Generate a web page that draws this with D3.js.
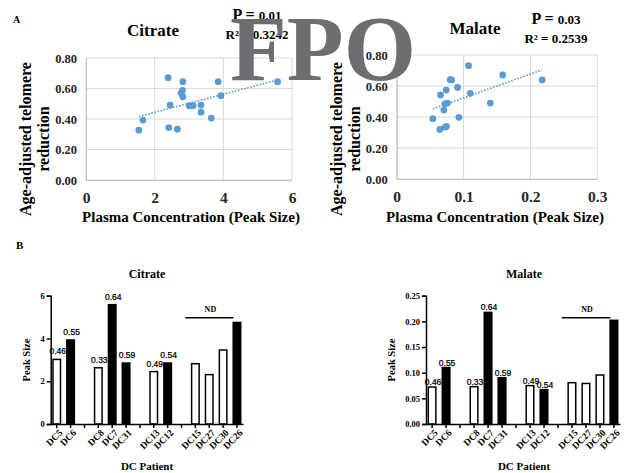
<!DOCTYPE html>
<html>
<head>
<meta charset="utf-8">
<script src="https://cdn.jsdelivr.net/npm/d3@7"></script>
<style>
  body { margin: 0; background: #fff; }
</style>
</head>
<body>
<svg id="fig" width="627" height="473" font-family="Liberation Serif, Times New Roman, serif" font-weight="bold"></svg>
<script>
// ---- data: panel A (scatter) ----
var citrateX = [1.54, 1.66, 2.39, 2.41, 2.45, 2.66, 2.82, 2.77, 2.81, 2.82, 3.01, 3.12, 3.35, 3.35, 3.65, 3.85, 3.93, 5.58];
var citrateY = [0.327, 0.393, 0.671, 0.344, 0.491, 0.333, 0.645, 0.570, 0.588, 0.546, 0.487, 0.487, 0.491, 0.445, 0.406, 0.645, 0.553, 0.645];
var malateX = [0.054, 0.0645, 0.0655, 0.0725, 0.0745, 0.074, 0.0705, 0.072, 0.076, 0.080, 0.082, 0.091, 0.093, 0.1075, 0.110, 0.140, 0.1585, 0.2175];
var malateY = [0.389, 0.320, 0.542, 0.335, 0.340, 0.574, 0.445, 0.484, 0.490, 0.641, 0.639, 0.591, 0.398, 0.731, 0.553, 0.490, 0.671, 0.639];
var scatterYTicks = [0, 0.2, 0.4, 0.6, 0.8];
var citrateXTicks = [0, 2, 4, 6];
var malateXTicks = [0, 0.1, 0.2, 0.3];

// ---- data: panel B (bars) ----
var slots = ["DC5", "DC6", "_g1", "DC8", "DC7", "DC31", "_g2", "DC13", "DC12", "_g3", "DC15", "DC27", "DC30", "DC26"];
var patients = ["DC5", "DC6", "DC8", "DC7", "DC31", "DC13", "DC12", "DC15", "DC27", "DC30", "DC26"];
var filledPatients = ["DC6", "DC7", "DC31", "DC12", "DC26"];
var telomere = [0.46, 0.55, 0.33, 0.64, 0.59, 0.49, 0.54, null, null, null, null];
var citratePeak = [3.02, 3.93, 2.63, 5.58, 2.85, 2.45, 2.85, 2.82, 2.31, 3.46, 4.75];
var malatePeak = [0.072, 0.110, 0.0727, 0.2175, 0.090, 0.0747, 0.0669, 0.0805, 0.079, 0.0955, 0.202];
var ndPatients = ["DC15", "DC27", "DC30", "DC26"];
var citrateBarTicks = [0, 2, 4, 6];
var malateBarTicks = [0, 0.05, 0.10, 0.15, 0.20, 0.25];

var svg = d3.select("#fig");
svg.append("rect").attr("width", 627).attr("height", 473).attr("fill", "#fff");

// least squares fit, like the Excel linear trendline
function fit(xs, ys) {
    var mx = d3.mean(xs), my = d3.mean(ys);
    var sxy = d3.sum(xs, function(v, i){ return (v - mx) * (ys[i] - my); });
    var sxx = d3.sum(xs, function(v){ return (v - mx) * (v - mx); });
    var b = sxy / sxx;
    return {b: b, a: my - b * mx};
}

function serif(sel, size) {
    return sel.attr("font-size", size).attr("fill", "#000")
        .attr("font-family", "Liberation Serif, Times New Roman, serif").attr("font-weight", "bold");
}

function scatter(o) {
    var x = d3.scaleLinear().domain(o.xDomain).range(o.xRange);
    var y = d3.scaleLinear().domain([0, 0.8]).range(o.yRange);
    var g = svg.append("g");

    // gridlines
    g.selectAll(".hg").data(scatterYTicks).enter().append("line")
        .attr("x1", o.xRange[0]).attr("x2", o.xRange[1])
        .attr("y1", function(d){ return y(d); }).attr("y2", function(d){ return y(d); })
        .attr("stroke", "#d9d9d9").attr("stroke-width", 1);
    g.selectAll(".vg").data(o.xTicks).enter().append("line")
        .attr("x1", function(d){ return x(d); }).attr("x2", function(d){ return x(d); })
        .attr("y1", o.yRange[0]).attr("y2", o.yRange[1])
        .attr("stroke", "#d9d9d9").attr("stroke-width", 1);

    var ya = g.append("g").attr("transform", "translate(" + o.xRange[0] + ",0)")
        .call(d3.axisLeft(y).tickValues(scatterYTicks).tickFormat(d3.format(".2f")).tickSize(0).tickPadding(9));
    ya.select(".domain").attr("stroke", "#bfbfbf");
    serif(ya.selectAll("text"), 12.5).attr("fill", "#262626");

    var xa = g.append("g").attr("transform", "translate(0," + o.yRange[0] + ")")
        .call(d3.axisBottom(x).tickValues(o.xTicks).tickFormat(o.xFmt).tickSize(0).tickPadding(12));
    xa.select(".domain").attr("stroke", "#bfbfbf");
    serif(xa.selectAll("text"), 15.5).attr("fill", "#262626");

    // trendline
    var f = fit(o.xs, o.ys);
    var x0 = d3.min(o.xs), x1 = d3.max(o.xs);
    g.append("line")
        .attr("x1", x(x0)).attr("y1", y(f.a + f.b * x0))
        .attr("x2", x(x1)).attr("y2", y(f.a + f.b * x1))
        .attr("stroke", "#5b9bd5").attr("stroke-width", 1.6).attr("stroke-dasharray", "1.6,1.6");

    // points
    g.selectAll("circle").data(o.xs).enter().append("circle")
        .attr("cx", function(d){ return x(d); })
        .attr("cy", function(d, i){ return y(o.ys[i]); })
        .attr("r", 3.4).attr("fill", "#5b9bd5");

    // titles
    g.append("text").attr("x", o.titleX).attr("y", o.titleY).attr("text-anchor", "middle")
        .attr("font-size", 17).text(o.title);
    var pt = g.append("text").attr("x", o.statX).attr("y", o.statY).attr("text-anchor", "middle");
    pt.append("tspan").attr("font-size", 16).text("P = ");
    pt.append("tspan").attr("font-size", 13).text(o.p);
    g.append("text").attr("x", o.statX).attr("y", o.statY + 19).attr("text-anchor", "middle")
        .attr("font-size", 13).text("R² = " + o.r2);

    g.append("text").attr("x", o.xTitleX).attr("y", 222).attr("text-anchor", "middle")
        .attr("font-size", 15).text("Plasma Concentration  (Peak Size)");
    var cy = 139;
    g.append("text").attr("transform", "translate(" + o.yTitleX + "," + cy + ") rotate(-90)")
        .attr("text-anchor", "middle").attr("dy", "0.35em").attr("font-size", 16)
        .text("Age-adjusted  telomere");
    g.append("text").attr("transform", "translate(" + (o.yTitleX + 18) + "," + cy + ") rotate(-90)")
        .attr("text-anchor", "middle").attr("dy", "0.35em").attr("font-size", 16)
        .text("reduction");
}

scatter({xs: citrateX, ys: citrateY, xDomain: [0, 6], xRange: [86, 292], yRange: [180, 58],
    xTicks: citrateXTicks, xFmt: d3.format("d"), title: "Citrate", titleX: 153, titleY: 36,
    statX: 257, statY: 20, p: "0.01", r2: "0.3242", xTitleX: 191, yTitleX: 25});
scatter({xs: malateX, ys: malateY, xDomain: [0, 0.3], xRange: [396.7, 597.3], yRange: [179, 55],
    xTicks: malateXTicks, xFmt: function(d){ return d === 0 ? "0" : d3.format(".1f")(d); },
    title: "Malate", titleX: 475, titleY: 34, statX: 556, statY: 24, p: "0.03", r2: "0.2539",
    xTitleX: 495, yTitleX: 336});

function bars(o) {
    var x = d3.scaleBand().domain(slots).range(o.xRange).paddingInner(0.35).paddingOuter(0.11);
    var y = d3.scaleLinear().domain(o.yDomain).range([424, 295.7]);
    var g = svg.append("g");

    g.selectAll("rect").data(patients).enter().append("rect")
        .attr("x", function(d){ return x(d) + 0.75; })
        .attr("width", x.bandwidth() - 1.5)
        .attr("y", function(d, i){ return y(o.values[i]); })
        .attr("height", function(d, i){ return y(0) - y(o.values[i]); })
        .attr("fill", function(d){ return filledPatients.indexOf(d) >= 0 ? "#000" : "#fff"; })
        .attr("stroke", "#000").attr("stroke-width", 1.5);

    // telomere values over the bars
    g.selectAll(".lab").data(patients).enter().filter(function(d, i){ return telomere[i] != null; })
        .append("text")
        .attr("x", function(d){ return x(d) + x.bandwidth() / 2 + 1; })
        .attr("y", function(d){ var i = patients.indexOf(d); return y(o.values[i]) - o.labelGap; })
        .attr("text-anchor", "middle").attr("font-size", 8.5).attr("fill", "#000")
        .attr("font-family", "Liberation Sans, Arial, sans-serif").attr("font-weight", "normal")
        .attr("stroke", "#000").attr("stroke-width", 0.25)
        .text(function(d){ return d3.format(".2f")(telomere[patients.indexOf(d)]); });

    var ya = g.append("g").attr("transform", "translate(" + o.xRange[0] + ",0)")
        .call(d3.axisLeft(y).tickValues(o.ticks).tickFormat(o.fmt).tickSize(4).tickPadding(2));
    ya.selectAll("path, line").attr("stroke", "#000").attr("stroke-width", 1.5);
    serif(ya.selectAll("text"), 8.5);

    var xa = g.append("g").attr("transform", "translate(0,424)")
        .call(d3.axisBottom(x).tickSize(4).tickSizeOuter(0)
            .tickFormat(function(d){ return d.charAt(0) === "_" ? "" : d; }));
    xa.selectAll("path, line").attr("stroke", "#000").attr("stroke-width", 1.5);
    serif(xa.selectAll("text"), 9.5)
        .attr("text-anchor", "end").attr("dy", "0.35em")
        .attr("transform", "translate(4,7) rotate(-45)").attr("y", 0).attr("x", 0);

    // ND bracket
    var nd0 = x(ndPatients[0]) - 0.4 * x.step();
    var nd1 = x(ndPatients[ndPatients.length - 1]) + 1;
    g.append("line").attr("x1", nd0).attr("x2", nd1).attr("y1", 317.7).attr("y2", 317.7)
        .attr("stroke", "#000").attr("stroke-width", 1.5);
    g.append("text").attr("x", (nd0 + nd1) / 2 + 1).attr("y", 312).attr("text-anchor", "middle")
        .attr("font-size", 8).text("ND");

    g.append("text").attr("x", o.titleX).attr("y", 278).attr("text-anchor", "middle")
        .attr("font-size", 12).text(o.title);
    g.append("text").attr("x", o.titleX).attr("y", 470).attr("text-anchor", "middle")
        .attr("font-size", 11).text("DC Patient");
    g.append("text").attr("transform", "translate(" + o.yTitleX + ",360) rotate(-90)")
        .attr("text-anchor", "middle").attr("dy", "0.35em").attr("font-size", 10.5).text("Peak Size");
}

bars({values: citratePeak, yDomain: [0, 6], ticks: citrateBarTicks, fmt: d3.format("d"),
    xRange: [50.7, 243], title: "Citrate", titleX: 147, yTitleX: 26, labelGap: 5});
bars({values: malatePeak, yDomain: [0, 0.25], ticks: malateBarTicks, fmt: d3.format(".2f"),
    xRange: [426, 620], title: "Malate", titleX: 524, yTitleX: 391, labelGap: 2});

// panel letters
svg.append("text").attr("x", 13).attr("y", 23).attr("font-size", 10).text("A");
svg.append("text").attr("x", 16).attr("y", 249).attr("font-size", 11).text("B");

// FPO stamp over the figure
svg.append("text").attr("x", 323).attr("y", 80).attr("text-anchor", "middle")
    .attr("font-size", 93).attr("fill", "#6d6e71").text("FPO");
</script>
</body>
</html>
